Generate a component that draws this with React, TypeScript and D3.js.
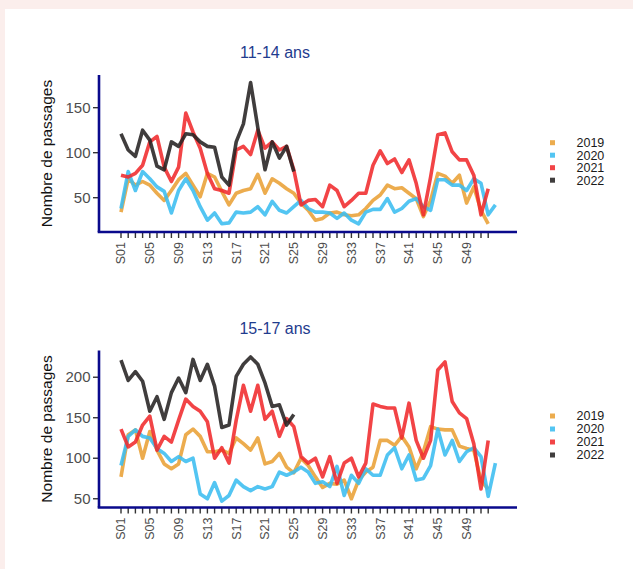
import React from "react";
import * as d3 from "d3";

const weeks = [
  "S01","S02","S03","S04","S05","S06","S07","S08","S09","S10",
  "S11","S12","S13","S14","S15","S16","S17","S18","S19","S20",
  "S21","S22","S23","S24","S25","S26","S27","S28","S29","S30",
  "S31","S32","S33","S34","S35","S36","S37","S38","S39","S40",
  "S41","S42","S43","S44","S45","S46","S47","S48","S49","S50",
  "S51","S52","S53",
];
const tickWeeks = weeks.slice(0, 52);
const labelWeeks = ["S01","S05","S09","S13","S17","S21","S25","S29","S33","S37","S41","S45","S49"];
const years = ["2019", "2020", "2021", "2022"];
const yearColors = ["#E9A035", "#3BBDF0", "#F02A2C", "#262222"];

// 11-14 ans
const a2019 = [34,71,64,68,64,55,47,58,70,77,64,51,77,73,57,42,55,58,60,76,55,71,66,60,55,44,36,25,27,33,34,31,30,31,38,47,53,64,60,61,55,49,29,47,77,74,66,75,44,62,36,21];
const a2020 = [38,79,58,79,71,62,57,33,58,71,58,40,25,33,21,22,34,33,34,40,31,46,36,33,40,47,38,34,34,33,27,33,25,21,34,37,37,49,34,38,46,49,40,36,70,70,64,64,58,71,66,31,42];
const a2021 = [75,73,77,86,112,118,84,68,84,144,123,105,77,60,58,55,103,107,98,125,105,112,103,107,81,42,47,48,40,64,58,40,47,55,55,86,102,88,93,78,92,66,31,73,120,122,101,92,92,75,31,60];
const a2022 = [121,103,96,125,114,85,81,112,107,121,120,112,107,106,73,64,112,132,178,128,81,112,94,107,79];

// 15-17 ans
const b2019 = [77,129,135,100,133,110,93,87,93,129,136,127,108,108,110,106,125,118,110,125,93,96,106,89,82,100,91,77,64,69,68,73,50,73,83,89,122,122,116,127,114,87,108,139,136,135,135,115,112,110,72,62];
const b2020 = [91,127,135,127,125,112,106,96,102,96,100,56,50,70,47,54,73,65,60,65,62,65,83,79,83,89,83,69,71,65,90,54,79,69,87,79,79,104,113,87,104,73,75,91,136,104,122,96,108,113,102,53,94];
const b2021 = [136,114,120,141,152,110,127,120,147,173,164,158,145,100,113,94,147,190,158,190,148,158,127,149,139,102,94,100,77,102,69,94,100,77,94,167,164,162,162,125,168,122,100,122,209,219,170,156,149,118,62,122];
const b2022 = [221,196,207,195,158,176,148,181,199,181,222,196,216,189,138,141,201,216,225,216,193,164,166,141,154];

const topTicks = [50, 100, 150];
const bottomTicks = [50, 100, 150, 200];

const AXIS = "#0A0A8C";
const FONT = "Liberation Sans, Arial, Helvetica, sans-serif";

type PanelProps = {
  title: string;
  series: number[][];
  top: number;
  domain: [number, number];
  ticks: number[];
  legendTop: number;
  legendStep: number;
};

function Panel({ title, series, top, domain, ticks, legendTop, legendStep }: PanelProps) {
  const left = 99;
  const right = 517;
  const height = 157;
  const bottom = top + height;
  const x = d3.scalePoint<string>().domain(weeks).range([121, 121 + 52 * 7.2]);
  const y = d3.scaleLinear().domain(domain).range([bottom, top]);
  const line = d3
    .line<number>()
    .x((_, i) => x(weeks[i]) as number)
    .y((d) => y(d));

  return (
    <g>
      <text x={275} y={top - 17} textAnchor="middle" fontSize={16} fill="#1F3C8E" fontFamily={FONT}>
        {title}
      </text>
      <text
        transform={`translate(52,${(top + bottom) / 2}) rotate(-90)`}
        textAnchor="middle"
        fontSize={15.5}
        fill="#111"
        fontFamily={FONT}
      >
        Nombre de passages
      </text>
      {ticks.map((t) => (
        <g key={t}>
          <line x1={93} x2={left} y1={y(t)} y2={y(t)} stroke="#333" strokeWidth={1.4} />
          <text x={90.5} y={y(t)} dy="0.35em" textAnchor="end" fontSize={15} fill="#4D4D4D" fontFamily={FONT}>
            {t}
          </text>
        </g>
      ))}
      {tickWeeks.map((w) => (
        <line key={w} x1={x(w)} x2={x(w)} y1={bottom} y2={bottom + 6} stroke="#333" strokeWidth={1.4} />
      ))}
      {labelWeeks.map((w) => (
        <text
          key={w}
          transform={`translate(${x(w)},${bottom + 10}) rotate(-90)`}
          textAnchor="end"
          dy="0.35em"
          fontSize={12.5}
          fill="#4D4D4D"
          fontFamily={FONT}
        >
          {w}
        </text>
      ))}
      {series.map((s, i) => (
        <path
          key={years[i]}
          d={line(s) ?? ""}
          fill="none"
          stroke={yearColors[i]}
          strokeWidth={3.6}
          strokeOpacity={0.88}
          strokeLinejoin="round"
        />
      ))}
      <line x1={left} x2={left} y1={top} y2={bottom} stroke={AXIS} strokeWidth={2.6} />
      <line x1={left - 1.3} x2={right} y1={bottom} y2={bottom} stroke={AXIS} strokeWidth={2.6} />
      {years.map((yr, i) => (
        <g key={yr}>
          <rect
            x={550}
            y={legendTop + i * legendStep - 2.5}
            width={5}
            height={5}
            fill={yearColors[i]}
            fillOpacity={0.88}
          />
          <text
            x={576.5}
            y={legendTop + i * legendStep}
            dy="0.35em"
            fontSize={12.5}
            fill="#1A1A1A"
            fontFamily={FONT}
          >
            {yr}
          </text>
        </g>
      ))}
    </g>
  );
}

export default function App() {
  return (
    <svg
      width={633}
      height={569}
      style={{ position: "absolute", left: 0, top: 0, display: "block" }}
    >
      <rect x={0} y={0} width={633} height={569} fill="#FBEEEC" />
      <rect x={5} y={9} width={628} height={560} fill="#FFFFFF" />
      <Panel
        title="11-14 ans"
        series={[a2019, a2020, a2021, a2022]}
        top={75}
        domain={[11.9, 186.3]}
        ticks={topTicks}
        legendTop={142.7}
        legendStep={12.5}
      />
      <Panel
        title="15-17 ans"
        series={[b2019, b2020, b2021, b2022]}
        top={350.5}
        domain={[39.2, 233]}
        ticks={bottomTicks}
        legendTop={416}
        legendStep={13}
      />
    </svg>
  );
}
